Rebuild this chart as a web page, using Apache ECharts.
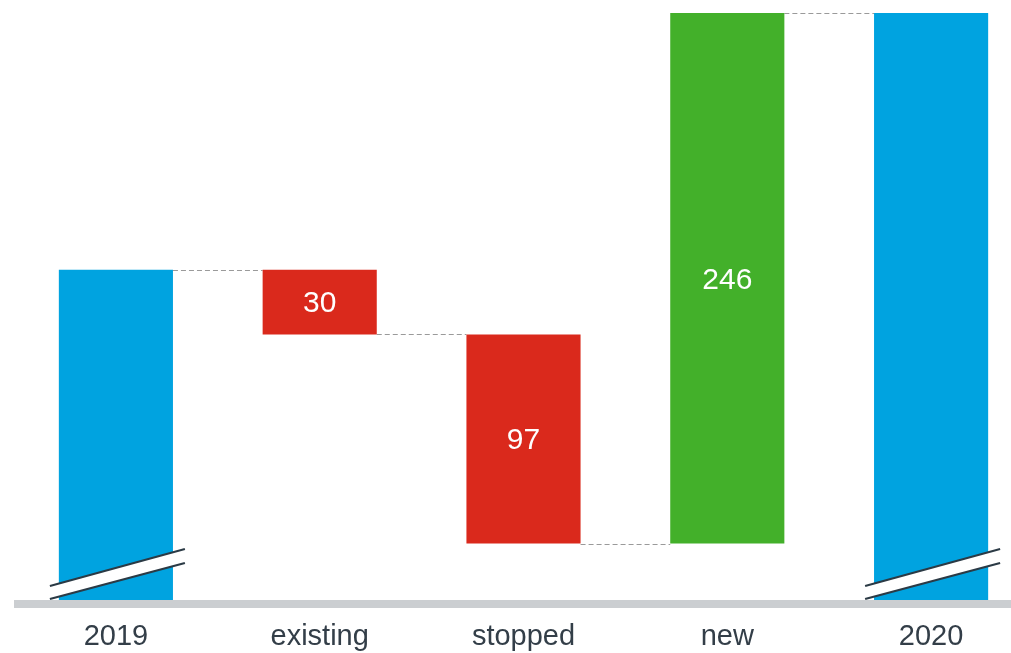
<!DOCTYPE html>
<html>
<head>
<meta charset="utf-8">
<title>Waterfall 2019–2020</title>
<script src="https://cdn.jsdelivr.net/npm/echarts@6/dist/echarts.min.js"></script>
<style>
  html, body { margin: 0; padding: 0; background: #ffffff; }
  #chart { width: 1011px; height: 653px; }
</style>
</head>
<body>
<div id="chart"></div>
<script>
// Waterfall: opening total, three changes, closing total
const categories = ['2019', 'existing', 'stopped', 'new', '2020'];
const openingTotal = 1155;
const changes = [-30, -97, 246];
const axisMin = 1000;

const colors = { total: '#00a3e0', down: '#da291c', up: '#43b02a' };

// Running totals after each step
const levels = [openingTotal];
changes.forEach(function (c) { levels.push(levels[levels.length - 1] + c); });
const closingTotal = levels[levels.length - 1];

// Transparent base and visible segment for each category
const baseValues = [0];
const barValues = [{ value: openingTotal, itemStyle: { color: colors.total }, isTotal: true }];
changes.forEach(function (c, i) {
  const before = levels[i], after = levels[i + 1];
  baseValues.push(Math.min(before, after));
  barValues.push({ value: Math.abs(c), itemStyle: { color: c < 0 ? colors.down : colors.up } });
});
baseValues.push(0);
barValues.push({ value: closingTotal, itemStyle: { color: colors.total }, isTotal: true });

const BAR_RATIO = 0.56;

const chart = echarts.init(document.getElementById('chart'), null, { renderer: 'canvas' });

chart.setOption({
  animation: false,
  grid: {
    left: 14, right: -22, top: 13, bottom: 49,
    containLabel: false,
    outerBoundsMode: 'none'
  },
  xAxis: {
    type: 'category',
    data: categories,
    z: 5,
    axisLine: { show: true, lineStyle: { color: '#cbced1', width: 8, cap: 'butt' } },
    axisTick: { show: false },
    axisLabel: {
      margin: 18,
      color: '#333e48',
      fontFamily: 'Liberation Sans, Arial, sans-serif',
      fontSize: 29
    },
    splitLine: { show: false }
  },
  yAxis: {
    type: 'value',
    min: axisMin,
    max: Math.max(openingTotal, closingTotal, ...levels),
    show: false,
    splitLine: { show: false }
  },
  series: [
    {
      name: 'base',
      type: 'bar',
      stack: 'wf',
      barWidth: (BAR_RATIO * 100) + '%',
      itemStyle: { color: 'transparent' },
      emphasis: { disabled: true },
      data: baseValues
    },
    {
      name: 'value',
      type: 'bar',
      stack: 'wf',
      barWidth: (BAR_RATIO * 100) + '%',
      clip: true,
      label: {
        show: true,
        position: 'inside',
        offset: [0, 2],
        color: '#ffffff',
        fontFamily: 'Liberation Sans, Arial, sans-serif',
        fontSize: 30,
        formatter: function (p) { return p.data.isTotal ? '' : String(p.data.value); }
      },
      data: barValues
    },
    {
      // dashed connectors between neighbouring bars
      name: 'connectors',
      type: 'custom',
      z: 1,
      silent: true,
      data: levels.map(function (lv, i) { return [i, lv]; }),
      renderItem: function (params, api) {
        const i = api.value(0), lv = api.value(1);
        const a = api.coord([i, lv]);
        const b = api.coord([i + 1, lv]);
        const half = api.size([1, 0])[0] * BAR_RATIO / 2;
        const y = Math.round(a[1]) + 0.5;
        return {
          type: 'line',
          shape: { x1: a[0] + half, y1: y, x2: b[0] - half, y2: y },
          style: { stroke: '#9a9a9a', lineWidth: 1, lineDash: [5, 3] }
        };
      }
    },
    {
      // axis-break marks on the total bars
      name: 'breaks',
      type: 'custom',
      z: 4,
      silent: true,
      data: [[0, axisMin], [categories.length - 1, axisMin]],
      renderItem: function (params, api) {
        const p = api.coord([api.value(0), api.value(1)]);
        const cx = p[0], by = p[1];
        const xl = cx - 66, xr = cx + 69;
        const upL = by - 18, upR = by - 55, loL = by - 5, loR = by - 41;
        const ink = '#2b3a45';
        return {
          type: 'group',
          children: [
            {
              type: 'polygon',
              shape: { points: [[xl, upL], [xr, upR], [xr, loR], [xl, loL]] },
              style: { fill: '#ffffff' }
            },
            {
              type: 'line',
              shape: { x1: xl, y1: upL, x2: xr, y2: upR },
              style: { stroke: ink, lineWidth: 2 }
            },
            {
              type: 'line',
              shape: { x1: xl, y1: loL, x2: xr, y2: loR },
              style: { stroke: ink, lineWidth: 2 }
            }
          ]
        };
      }
    }
  ]
});
</script>
</body>
</html>
